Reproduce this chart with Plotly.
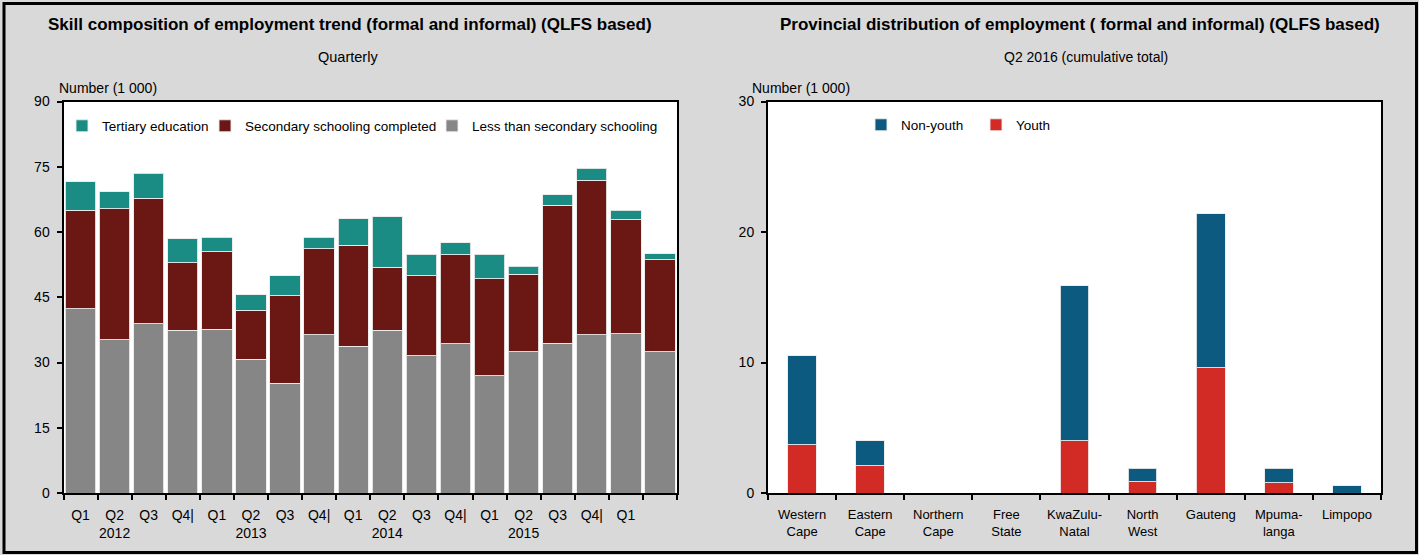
import plotly.graph_objects as go

# ---------------- data ----------------
quarters = ["2012Q1", "2012Q2", "2012Q3", "2012Q4", "2013Q1", "2013Q2", "2013Q3", "2013Q4",
            "2014Q1", "2014Q2", "2014Q3", "2014Q4", "2015Q1", "2015Q2", "2015Q3", "2015Q4",
            "2016Q1", "2016Q2"]
quarter_ticks = ["Q1", "Q2<br>2012", "Q3", "Q4|", "Q1", "Q2<br>2013", "Q3", "Q4|",
                 "Q1", "Q2<br>2014", "Q3", "Q4|", "Q1", "Q2<br>2015", "Q3", "Q4|", "Q1", ""]
less_than_secondary = [42.3, 35.2, 38.9, 37.4, 37.7, 30.8, 25.2, 36.4, 33.7, 37.4, 31.6, 34.3,
                       27.0, 32.5, 34.4, 36.4, 36.6, 32.5]
secondary_completed = [22.7, 30.2, 28.9, 15.5, 17.8, 11.2, 20.2, 19.8, 23.2, 14.5, 18.4, 20.5,
                       22.3, 17.8, 31.7, 35.5, 26.2, 21.1]
tertiary = [6.6, 3.8, 5.7, 5.6, 3.3, 3.6, 4.5, 2.6, 6.2, 11.6, 4.9, 2.7,
            5.6, 1.8, 2.5, 2.7, 2.2, 1.4]

provinces = ["Western<br>Cape", "Eastern<br>Cape", "Northern<br>Cape", "Free<br>State",
             "KwaZulu-<br>Natal", "North<br>West", "Gauteng", "Mpuma-<br>langa", "Limpopo"]
youth = [3.7, 2.1, 0, 0, 4.0, 0.85, 9.6, 0.8, 0]
non_youth = [6.8, 1.9, 0, 0, 11.9, 1.05, 11.8, 1.1, 0.55]

left_yticks = [0, 15, 30, 45, 60, 75, 90]
right_yticks = [0, 10, 20, 30]

# ---------------- style ----------------
W, H = 1419, 555
FONT = "Liberation Sans Narrow, Arial Narrow, Liberation Sans, Arial, sans-serif"
C_TER, C_SEC, C_LESS = "#1b8c84", "#6b1713", "#868686"
C_NON, C_YOUTH = "#0d5a80", "#d22b26"


def px_x(p):
    return p / W


def px_y(p):
    return 1 - p / H


fig = go.Figure()

edge = dict(color="rgba(235,235,235,0.9)", width=1)
fig.add_trace(go.Bar(x=quarters, y=less_than_secondary, name="Less than secondary schooling",
                     marker=dict(color=C_LESS, line=edge), xaxis="x", yaxis="y", legend="legend",
                     legendwidth=200))
fig.add_trace(go.Bar(x=quarters, y=secondary_completed, name="Secondary schooling completed",
                     marker=dict(color=C_SEC, line=edge), xaxis="x", yaxis="y", legend="legend",
                     legendwidth=182))
fig.add_trace(go.Bar(x=quarters, y=tertiary, name="Tertiary education",
                     marker=dict(color=C_TER, line=edge), xaxis="x", yaxis="y", legend="legend",
                     legendwidth=98))

fig.add_trace(go.Bar(x=provinces, y=youth, name="Youth",
                     marker=dict(color=C_YOUTH, line=edge), xaxis="x2", yaxis="y2", legend="legend2",
                     legendwidth=60))
fig.add_trace(go.Bar(x=provinces, y=non_youth, name="Non-youth",
                     marker=dict(color=C_NON, line=edge), xaxis="x2", yaxis="y2", legend="legend2",
                     legendwidth=70))

axis_common = dict(showline=True, linecolor="black", linewidth=2, mirror=True,
                   showgrid=False, zeroline=False, ticks="outside", tickcolor="black",
                   tickwidth=1.5, ticklen=5, automargin=False, tickangle=0)

fig.update_layout(
    width=W, height=H,
    margin=dict(l=0, r=0, t=0, b=0),
    paper_bgcolor="#d9d9d9", plot_bgcolor="white",
    barmode="stack",
    font=dict(family=FONT, size=14, color="black"),
    xaxis=dict(domain=[px_x(63.5), px_x(677)], anchor="y", type="category",
               categoryorder="array", categoryarray=quarters,
               tickmode="array", tickvals=quarters, ticktext=quarter_ticks,
               tickson="boundaries", ticklabelstandoff=8,
               tickfont=dict(family=FONT, size=14, color="black"), **axis_common),
    yaxis=dict(domain=[px_y(493), px_y(101.5)], anchor="x", range=[0, 90],
               tickmode="array", tickvals=left_yticks, ticklabelstandoff=4,
               tickfont=dict(family=FONT, size=14, color="black"), **axis_common),
    xaxis2=dict(domain=[px_x(768), px_x(1381)], anchor="y2", type="category",
                tickson="boundaries", ticklabelstandoff=8,
                tickfont=dict(family=FONT, size=13, color="black"), **axis_common),
    yaxis2=dict(domain=[px_y(493), px_y(101.5)], anchor="x2", range=[0, 30],
                tickmode="array", tickvals=right_yticks, ticklabelstandoff=4,
                tickfont=dict(family=FONT, size=14, color="black"), **axis_common),
    bargap=0.11,
    legend=dict(orientation="h", x=px_x(62), y=px_y(126), xanchor="left", yanchor="middle",
                traceorder="reversed", bgcolor="rgba(0,0,0,0)",
                font=dict(family=FONT, size=13.5), itemwidth=30),
    legend2=dict(orientation="h", x=px_x(861), y=px_y(125), xanchor="left", yanchor="middle",
                 traceorder="reversed", bgcolor="rgba(0,0,0,0)",
                 font=dict(family=FONT, size=13.5), itemwidth=30),
    showlegend=True,
)

# narrower bars on the provincial chart
fig.update_traces(width=0.42, selector=dict(xaxis="x2"))

ann = []
def text(x, y, s, size=14, bold=False, xanchor="center"):
    ann.append(dict(x=px_x(x), y=px_y(y), xref="paper", yref="paper", text=f"<b>{s}</b>" if bold else s,
                    showarrow=False, xanchor=xanchor, yanchor="middle",
                    font=dict(family=FONT, size=size, color="black")))

text(350, 25, "Skill composition of employment trend (formal and informal) (QLFS based)", 17, True)
text(348, 57, "Quarterly", 14.5)
text(57, 88, "Number (1 000)", 14, xanchor="left")
text(1080, 25, "Provincial distribution of employment ( formal and informal) (QLFS based)", 17, True)
text(1086, 57, "Q2 2016 (cumulative total)", 14)
text(750, 88, "Number (1 000)", 14, xanchor="left")
fig.update_layout(annotations=ann)

fig.add_shape(type="rect", xref="paper", yref="paper",
              x0=px_x(4), x1=px_x(1416.5), y0=px_y(552.5), y1=px_y(3.5),
              line=dict(color="black", width=3), fillcolor="rgba(0,0,0,0)", layer="above")

fig.write_html("out.html", config={"displayModeBar": False},
               post_script="document.body.style.margin='0';document.body.style.overflow='hidden';")
